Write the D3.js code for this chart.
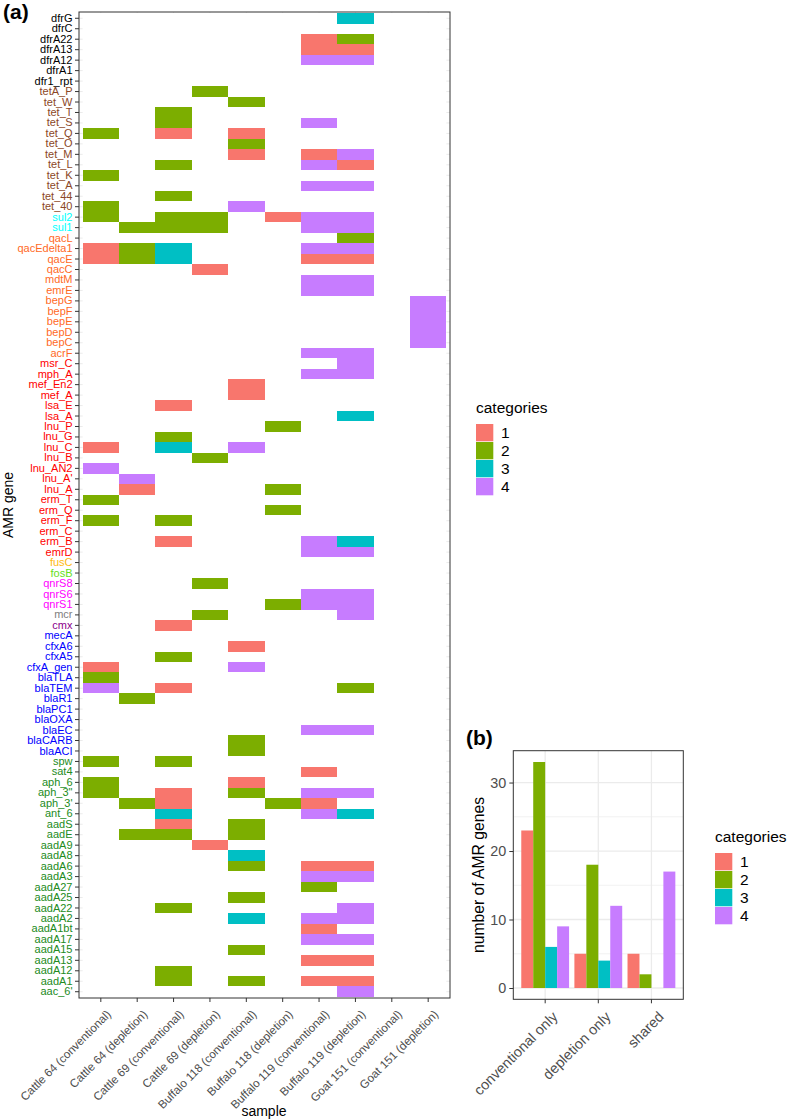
<!DOCTYPE html>
<html>
<head>
<meta charset="utf-8">
<script src="https://cdn.jsdelivr.net/npm/d3@7"></script>
<style>
  body { margin: 0; background: #fff; }
  svg { display: block; font-family: "Liberation Sans", Arial, Helvetica, sans-serif; }
</style>
</head>
<body>
<svg id="chart" width="787" height="1119"></svg>
<script>
// ---------------- DATA ----------------
const samples = [
  "Cattle 64 (conventional)", "Cattle 64 (depletion)",
  "Cattle 69 (conventional)", "Cattle 69 (depletion)",
  "Buffalo 118 (conventional)", "Buffalo 118 (depletion)",
  "Buffalo 119 (conventional)", "Buffalo 119 (depletion)",
  "Goat 151 (conventional)", "Goat 151 (depletion)"
];

// genes listed top to bottom
const genes = [
  "dfrG","dfrC","dfrA22","dfrA13","dfrA12","dfrA1","dfr1_rpt",
  "tetA_P","tet_W","tet_T","tet_S","tet_Q","tet_O","tet_M","tet_L","tet_K","tet_A","tet_44","tet_40",
  "sul2","sul1",
  "qacL","qacEdelta1","qacE","qacC","mdtM","emrE","bepG","bepF","bepE","bepD","bepC","acrF",
  "msr_C","mph_A","mef_En2","mef_A","lsa_E","lsa_A","lnu_P","lnu_G","lnu_C","lnu_B","lnu_AN2","lnu_A'","lnu_A",
  "erm_T","erm_Q","erm_F","erm_C","erm_B","emrD",
  "fusC","fosB","qnrS8","qnrS6","qnrS1","mcr","cmx",
  "mecA","cfxA6","cfxA5","cfxA_gen","blaTLA","blaTEM","blaR1","blaPC1","blaOXA","blaEC","blaCARB","blaACI",
  "spw","sat4","aph_6","aph_3\"","aph_3'","ant_6","aadS","aadE","aadA9","aadA8","aadA6","aadA3","aadA27",
  "aadA25","aadA22","aadA2","aadA1bt","aadA17","aadA15","aadA13","aadA12","aadA1","aac_6'"
];

// drug class of each gene (label colour), same order as genes
const geneClass = [
  "tri","tri","tri","tri","tri","tri","tri",
  "tet","tet","tet","tet","tet","tet","tet","tet","tet","tet","tet","tet",
  "sul","sul",
  "mdr","mdr","mdr","mdr","mdr","mdr","mdr","mdr","mdr","mdr","mdr","mdr",
  "mls","mls","mls","mls","mls","mls","mls","mls","mls","mls","mls","mls","mls",
  "mls","mls","mls","mls","mls","mls",
  "fus","fos","qnr","qnr","qnr","col","phe",
  "bla","bla","bla","bla","bla","bla","bla","bla","bla","bla","bla","bla",
  "ami","ami","ami","ami","ami","ami","ami","ami","ami","ami","ami","ami","ami",
  "ami","ami","ami","ami","ami","ami","ami","ami","ami","ami"
];

// category of each gene in each sample (one character per sample, 0 = absent)
const geneCategories = [
  "0000000300","0000000000","0000001200","0000001100","0000004400","0000000000","0000000000",
  "0002000000","0000200000","0020000000","0020004000","2010100000","0000200000","0000101400",
  "0020004100","2000000000","0000004400","0020000000","2000400000",
  "2022014400","0222004400",
  "0000000200","1230004400","1230001100","0001000000","0000004400","0000004400",
  "0000000004","0000000004","0000000004","0000000004","0000000004","0000004400",
  "0000000400","0000004400","0000100000","0000100000","0010000000","0000000300","0000020000",
  "0020000000","1030400000","0002000000","4000000000","0400000000","0100020000",
  "2000000000","0000020000","2020000000","0000000000","0010004300","0000004400",
  "0000000000","0000000000","0002000000","0000004400","0000024400","0002000400","0010000000",
  "0000000000","0000100000","0020000000","1000400000","2000000000","4010000200","0200000000",
  "0000000000","0000000000","0000004400","0000200000","0000200000",
  "2020000000","0000001000","2000100000","2010204400","0210021000","0030004300","0010200000",
  "0220200000","0001000000","0000300000","0000201100","0000004400","0000002000",
  "0000200000","0020000400","0000304400","0000001000","0000004400","0000200000","0000001100",
  "0020000000","0020201100","0000000400"
];

const categories = ["1","2","3","4"];

// panel (b)
const groups = ["conventional only", "depletion only", "shared"];
const countsCat1 = [23, 5, 5];
const countsCat2 = [33, 18, 2];
const countsCat3 = [6, 4, 0];
const countsCat4 = [9, 12, 17];
const yTicksB = [0, 10, 20, 30];

// ---------------- STYLE ----------------
const catColors = ["#F8766D", "#7CAE00", "#00BFC4", "#C77CFF"];
const classColor = {
  tri: "#000000", tet: "#8B4726", sul: "#00FFFF", mdr: "#FF6A1F", mls: "#FF0000",
  fus: "#FFB90F", fos: "#66E01A", qnr: "#FF00FF", col: "#808080", phe: "#8B008B",
  bla: "#0000FF", ami: "#228B22"
};
const grey20 = "#333333", grey30 = "#4D4D4D", grid = "#EBEBEB";
const FONT = "Liberation Sans, Arial, sans-serif";

const svg = d3.select("#chart");
const color = d3.scaleOrdinal().domain(categories).range(catColors);

// ---------------- PANEL A ----------------
const A = { left: 79, right: 450, top: 12, bottom: 998 };
const xA = d3.scaleBand().domain(samples).range([A.left, A.right]).paddingInner(0).paddingOuter(0.1);
const yA = d3.scaleBand().domain(genes).range([A.top, A.bottom]).paddingInner(0).paddingOuter(0.1);

const gA = svg.append("g");
gA.selectAll("line.hg").data(genes).join("line")
  .attr("x1", A.left).attr("x2", A.right)
  .attr("y1", d => yA(d) + yA.bandwidth() / 2).attr("y2", d => yA(d) + yA.bandwidth() / 2)
  .attr("stroke", grid).attr("stroke-width", 1);
gA.selectAll("line.vg").data(samples).join("line")
  .attr("y1", A.top).attr("y2", A.bottom)
  .attr("x1", d => xA(d) + xA.bandwidth() / 2).attr("x2", d => xA(d) + xA.bandwidth() / 2)
  .attr("stroke", grid).attr("stroke-width", 1);
gA.append("rect")
  .attr("x", xA(samples[0])).attr("y", yA(genes[0]))
  .attr("width", xA.bandwidth() * samples.length).attr("height", yA.bandwidth() * genes.length)
  .attr("fill", "#fff");

const cells = [];
genes.forEach((g, i) => {
  geneCategories[i].split("").forEach((c, j) => {
    if (c !== "0") cells.push({ gene: g, sample: samples[j], cat: c });
  });
});
gA.selectAll("rect.cell").data(cells).join("rect")
  .attr("class", "cell")
  .attr("x", d => xA(d.sample)).attr("y", d => yA(d.gene))
  .attr("width", xA.bandwidth()).attr("height", yA.bandwidth())
  .attr("fill", d => color(d.cat))
  .attr("shape-rendering", "crispEdges");

gA.append("rect")
  .attr("x", A.left).attr("y", A.top).attr("width", A.right - A.left).attr("height", A.bottom - A.top)
  .attr("fill", "none").attr("stroke", grey20).attr("stroke-width", 1);

const yAxisA = gA.append("g").attr("transform", `translate(${A.left},0)`)
  .call(d3.axisLeft(yA).tickSize(4).tickPadding(2.5));
yAxisA.attr("font-size", null).attr("font-family", null);
yAxisA.select(".domain").remove();
yAxisA.selectAll(".tick line").attr("stroke", grey20);
yAxisA.selectAll(".tick text")
  .style("font-size", "11px").style("font-family", FONT)
  .attr("fill", (d) => classColor[geneClass[genes.indexOf(d)]]);

const xAxisA = gA.append("g").attr("transform", `translate(0,${A.bottom})`)
  .call(d3.axisBottom(xA).tickSize(4));
xAxisA.attr("font-size", null).attr("font-family", null);
xAxisA.select(".domain").remove();
xAxisA.selectAll(".tick line").attr("stroke", grey20);
xAxisA.selectAll(".tick text")
  .style("font-size", "11.6px").style("font-family", FONT)
  .attr("fill", grey30)
  .attr("text-anchor", "end")
  .attr("y", 0).attr("dy", "0.72em")
  .attr("transform", "translate(5,11) rotate(-45)");

svg.append("text").attr("x", 264).attr("y", 1116).attr("text-anchor", "middle")
  .style("font-size", "14px").attr("fill", "#000").text("sample");
svg.append("text").attr("transform", `translate(13,${(A.top + A.bottom) / 2}) rotate(-90)`)
  .attr("text-anchor", "middle").style("font-size", "14px").attr("fill", "#000").text("AMR gene");
svg.append("text").attr("x", 3).attr("y", 19).style("font-size", "21px").attr("font-weight", "bold")
  .attr("fill", "#000").text("(a)");

function legend(x, y) {
  const g = svg.append("g").attr("transform", `translate(${x},${y})`);
  g.append("text").attr("x", 0).attr("y", 0).style("font-size", "15.5px").attr("fill", "#000").text("categories");
  const items = g.selectAll("g.item").data(categories).join("g")
    .attr("transform", (d, i) => `translate(0,${11 + i * 18})`);
  items.append("rect").attr("width", 17.3).attr("height", 17.3)
    .attr("fill", d => color(d));
  items.append("text").attr("x", 25).attr("y", 8.7).attr("dy", "0.36em")
    .style("font-size", "15.5px").attr("fill", "#000").text(d => d);
}
legend(476, 413);

// ---------------- PANEL B ----------------
const B = { left: 513.3, right: 683.3, top: 750.7, bottom: 999.3 };
const xB = d3.scaleBand().domain(groups).range([B.left, B.right]).paddingInner(0).paddingOuter(0.1);
const yB = d3.scaleLinear().domain([-1.65, 34.65]).range([B.bottom, B.top]);
const xInner = d3.scaleBand().domain(categories).range([-0.45 * xB.bandwidth(), 0.45 * xB.bandwidth()]).padding(0);

const gB = svg.append("g");
gB.selectAll("line.mg").data([5, 15, 25]).join("line")
  .attr("x1", B.left).attr("x2", B.right).attr("y1", d => yB(d)).attr("y2", d => yB(d))
  .attr("stroke", grid).attr("stroke-width", 0.7);
gB.selectAll("line.Mg").data(yTicksB).join("line")
  .attr("x1", B.left).attr("x2", B.right).attr("y1", d => yB(d)).attr("y2", d => yB(d))
  .attr("stroke", grid).attr("stroke-width", 1.3);
gB.selectAll("line.vg").data(groups).join("line")
  .attr("y1", B.top).attr("y2", B.bottom)
  .attr("x1", d => xB(d) + xB.bandwidth() / 2).attr("x2", d => xB(d) + xB.bandwidth() / 2)
  .attr("stroke", grid).attr("stroke-width", 1.3);

const seriesB = [countsCat1, countsCat2, countsCat3, countsCat4];
const bars = [];
groups.forEach((g, i) => categories.forEach((c, k) => bars.push({ group: g, cat: c, value: seriesB[k][i] })));
gB.selectAll("rect.bar").data(bars.filter(d => d.value > 0)).join("rect")
  .attr("x", d => xB(d.group) + xB.bandwidth() / 2 + xInner(d.cat))
  .attr("width", xInner.bandwidth())
  .attr("y", d => yB(d.value)).attr("height", d => yB(0) - yB(d.value))
  .attr("fill", d => color(d.cat));

gB.append("rect")
  .attr("x", B.left).attr("y", B.top).attr("width", B.right - B.left).attr("height", B.bottom - B.top)
  .attr("fill", "none").attr("stroke", grey20).attr("stroke-width", 1);

const yAxisB = gB.append("g").attr("transform", `translate(${B.left},0)`)
  .call(d3.axisLeft(yB).tickValues(yTicksB).tickSize(4).tickPadding(3));
yAxisB.attr("font-size", null).attr("font-family", null);
yAxisB.select(".domain").remove();
yAxisB.selectAll(".tick line").attr("stroke", grey20);
yAxisB.selectAll(".tick text").style("font-size", "14.4px").attr("fill", grey30).style("font-family", FONT);

const xAxisB = gB.append("g").attr("transform", `translate(0,${B.bottom})`)
  .call(d3.axisBottom(xB).tickSize(4));
xAxisB.attr("font-size", null).attr("font-family", null);
xAxisB.select(".domain").remove();
xAxisB.selectAll(".tick line").attr("stroke", grey20);
xAxisB.selectAll(".tick text")
  .style("font-size", "14.4px").style("font-family", FONT)
  .attr("fill", grey30).attr("text-anchor", "end")
  .attr("y", 0).attr("dy", "0.72em")
  .attr("transform", "translate(6,11) rotate(-45)");

svg.append("text").attr("transform", `translate(478,${(B.top + B.bottom) / 2}) rotate(-90)`)
  .attr("text-anchor", "middle").attr("dy", "0.35em").style("font-size", "15.7px").attr("fill", "#000")
  .text("number of AMR genes");
svg.append("text").attr("x", 466).attr("y", 745).style("font-size", "21px").attr("font-weight", "bold")
  .attr("fill", "#000").text("(b)");

legend(715, 842);
</script>
</body>
</html>
